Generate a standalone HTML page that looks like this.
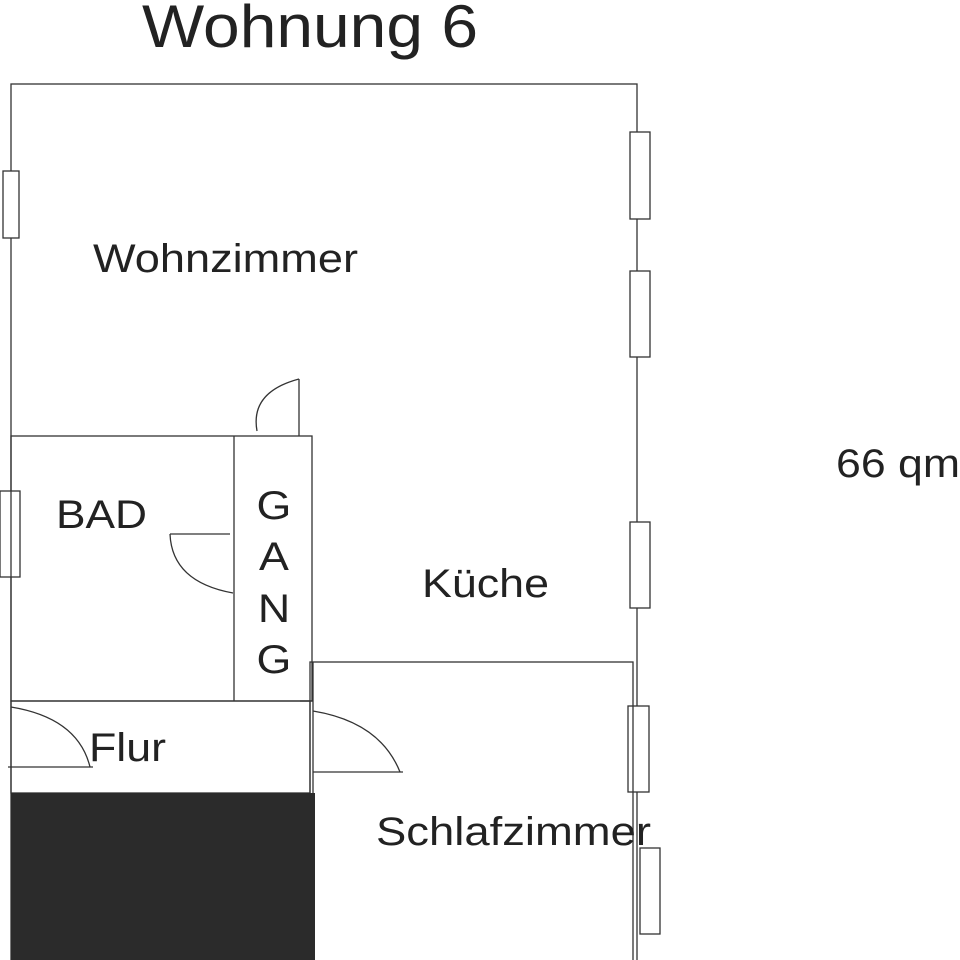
<!DOCTYPE html>
<html><head><style>body{margin:0;background:#fff}svg{display:block}text{font-family:"Liberation Sans",sans-serif;fill:#222}</style></head>
<body>
<svg width="960" height="960" viewBox="0 0 960 960" xmlns="http://www.w3.org/2000/svg">
<g fill="none" stroke="#333" stroke-width="1.3">
<rect x="11" y="84" width="626" height="880"/>
<rect x="630" y="132" width="20" height="87" fill="#fff"/>
<rect x="630" y="271" width="20" height="86" fill="#fff"/>
<rect x="630" y="522" width="20" height="86" fill="#fff"/>
<rect x="628" y="706" width="21" height="86" fill="#fff"/>
<rect x="640" y="848" width="20" height="86" fill="#fff"/>
<rect x="3" y="171" width="16" height="67" fill="#fff"/>
<rect x="0" y="491" width="20" height="86" fill="#fff"/>
<rect x="11" y="436" width="301" height="265"/>
<line x1="234" y1="436" x2="234" y2="701"/>
<rect x="11" y="701" width="299" height="92"/>
<rect x="310" y="662" width="323" height="300"/>
<line x1="313" y1="662" x2="313" y2="960"/>
<line x1="299" y1="379" x2="299" y2="436"/>
<path d="M299 379 Q250 392 257 431"/>
<line x1="170" y1="534" x2="230" y2="534"/>
<path d="M170 534 Q172 582 233 593"/>
<line x1="8" y1="767" x2="93" y2="767"/>
<path d="M11 707 Q78 718 90 767"/>
<line x1="313" y1="772" x2="403" y2="772"/>
<line x1="300" y1="701" x2="313" y2="701"/>
<path d="M313 711 Q380 722 400 772"/>
</g>
<rect x="11" y="793" width="304" height="167" fill="#2b2b2b"/>
<g lengthAdjust="spacingAndGlyphs">
<text x="142" y="47" font-size="60" textLength="336" lengthAdjust="spacingAndGlyphs">Wohnung 6</text>
<text x="93" y="272" font-size="40" textLength="265" lengthAdjust="spacingAndGlyphs">Wohnzimmer</text>
<text x="836" y="477" font-size="40" textLength="124" lengthAdjust="spacingAndGlyphs">66 qm</text>
<text x="56" y="528" font-size="40" textLength="91" lengthAdjust="spacingAndGlyphs">BAD</text>
<text x="422" y="597" font-size="40" textLength="127" lengthAdjust="spacingAndGlyphs">Küche</text>
<text x="89" y="761" font-size="40" textLength="77" lengthAdjust="spacingAndGlyphs">Flur</text>
<text x="376" y="845" font-size="40" textLength="275" lengthAdjust="spacingAndGlyphs">Schlafzimmer</text>
</g>
<g font-size="40" text-anchor="middle"><text x="274" y="519" transform="translate(274 0) scale(1.12 1) translate(-274 0)">G</text><text x="274" y="570" transform="translate(274 0) scale(1.12 1) translate(-274 0)">A</text><text x="274" y="622" transform="translate(274 0) scale(1.12 1) translate(-274 0)">N</text><text x="274" y="673" transform="translate(274 0) scale(1.12 1) translate(-274 0)">G</text></g>
</svg>
</body></html>
